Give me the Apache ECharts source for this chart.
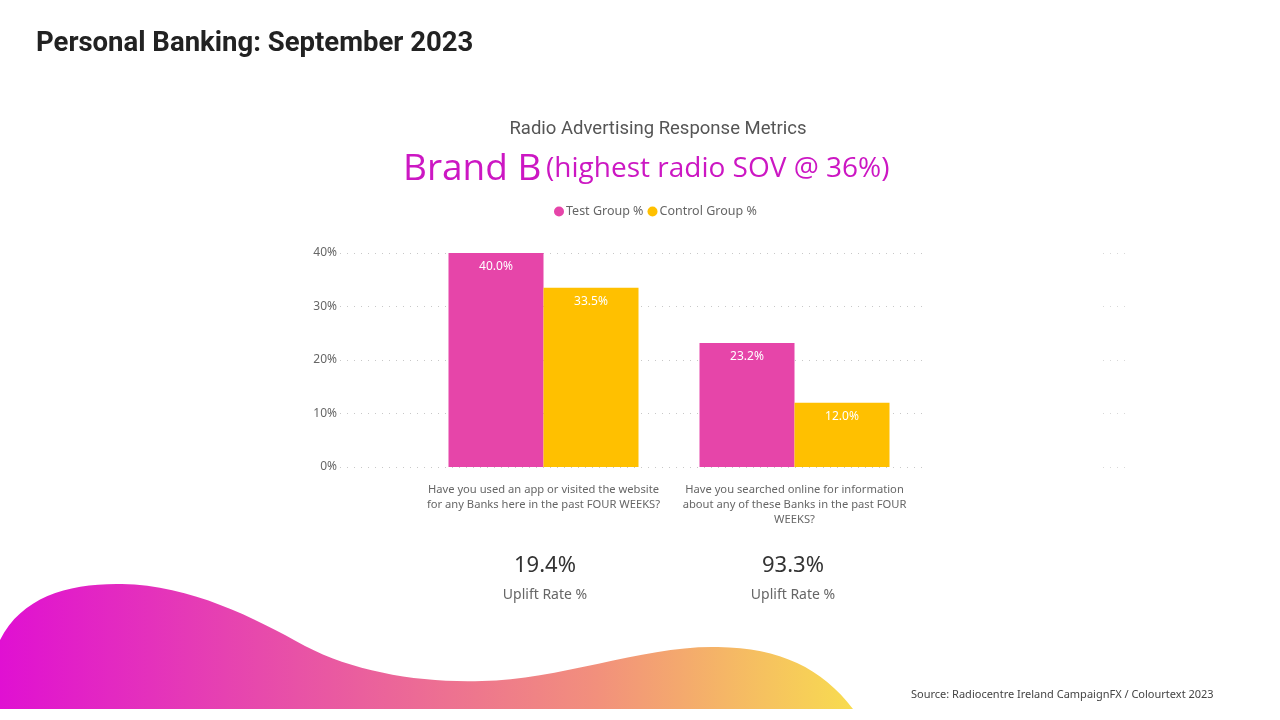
<!DOCTYPE html>
<html>
<head>
<meta charset="utf-8">
<title>Personal Banking: September 2023</title>
<script src="https://cdn.jsdelivr.net/npm/echarts@6/dist/echarts.min.js"></script>
<style>
  html, body { margin: 0; padding: 0; background: #fff; }
  #chart { width: 1280px; height: 720px; }
</style>
</head>
<body>
<div id="chart"></div>
<script>
// 问题类别
const categories = [
  'Have you used an app or visited the website\nfor any Banks here in the past FOUR WEEKS?',
  'Have you searched online for information\nabout any of these Banks in the past FOUR\nWEEKS?'
];
// 系列数据 (%)
const testGroup = [40.0, 23.2];
const controlGroup = [33.5, 12.0];
// 提升率 (%)
const upliftRates = [19.4, 93.3];

const PINK = '#E645A9';
const YELLOW = '#FFC000';
const LABEL_FONT = 'Noto Sans';

const chart = echarts.init(document.getElementById('chart'));

// 背景波浪 (装饰)
const WAVE_PATH = 'M0,709 L0,640 C22,596 70,583 122,584 C190,585 255,618 305,646 ' +
  'C355,672 420,683 482,681 C560,680 645,645 718,647 C780,648 822,668 853,709 Z';
const waveFill = new echarts.graphic.LinearGradient(0, 0, 1, 0, [
  { offset: 0, color: '#E010D2' },
  { offset: 0.35, color: '#E852A6' },
  { offset: 0.7, color: '#F2907C' },
  { offset: 1, color: '#F8DC50' }
]);

// 提升率文字
const kpiX = [545, 793];
const kpis = [];
upliftRates.forEach((v, i) => {
  kpis.push({
    type: 'text', x: kpiX[i], y: 555,
    style: { text: v.toFixed(1) + '%', font: '400 22px "Noto Sans"', fill: '#333', align: 'center' }
  });
  kpis.push({
    type: 'text', x: kpiX[i], y: 588,
    style: { text: 'Uplift Rate %', font: '400 14px "Noto Sans"', fill: '#666', align: 'center' }
  });
});

const valueAxisBase = {
  type: 'value',
  min: 0,
  max: 40,
  interval: 10,
  axisLine: { show: false },
  axisTick: { show: false }
};

const barLabel = {
  show: true, position: 'insideTop', distance: 8,
  formatter: (p) => p.value.toFixed(1) + '%',
  color: '#fff', fontSize: 12
};

chart.setOption({
  backgroundColor: '#fff',
  animation: false,
  textStyle: { fontFamily: LABEL_FONT },
  title: [
    {
      text: 'Personal Banking: September 2023',
      left: 31, top: 25,
      textStyle: { fontFamily: 'Roboto', fontWeight: 'bold', fontSize: 27.5, color: '#222' }
    },
    {
      text: 'Radio Advertising Response Metrics',
      left: 653, top: 115, textAlign: 'center',
      textStyle: { fontFamily: 'Roboto', fontWeight: 'normal', fontSize: 18.5, color: '#555' }
    },
    {
      text: '{a|Brand B} {b|(highest radio SOV @ 36%)}',
      left: 398, top: 146,
      textStyle: {
        rich: {
          a: { fontFamily: 'Open Sans', fontWeight: 'normal', fontSize: 37, color: '#CC17C3' },
          b: { fontFamily: 'Open Sans', fontWeight: 'normal', fontSize: 28, color: '#CC17C3' }
        }
      }
    },
    {
      text: 'Source: Radiocentre Ireland CampaignFX / Colourtext 2023',
      left: 906, top: 684,
      textStyle: { fontFamily: LABEL_FONT, fontWeight: 'normal', fontSize: 11, color: '#444' }
    }
  ],
  legend: {
    data: ['Test Group %', 'Control Group %'],
    left: 549, top: 200,
    icon: 'circle',
    itemWidth: 10, itemHeight: 10, itemGap: 4,
    textStyle: { fontSize: 12.5, color: '#666', padding: [0, 0, 0, -3] }
  },
  grid: [
    // 网格线 + y 轴标签
    { left: 340, right: 355, top: 253, bottom: 253 },
    // 柱子
    { left: 418, right: 360, top: 253, bottom: 253 },
    // 右侧残留虚线
    { left: 1103, right: 153, top: 253, bottom: 253 }
  ],
  xAxis: [
    { gridIndex: 0, type: 'category', data: [''], show: false },
    {
      gridIndex: 1, type: 'category', data: categories,
      axisLine: { show: false }, axisTick: { show: false },
      axisLabel: { color: '#666', fontSize: 11.2, lineHeight: 15, margin: 15, interval: 0 }
    },
    { gridIndex: 2, type: 'category', data: [''], show: false }
  ],
  yAxis: [
    Object.assign({}, valueAxisBase, {
      gridIndex: 0,
      axisLabel: { formatter: '{value}%', color: '#666', fontSize: 12, margin: 3 },
      splitLine: { show: true, lineStyle: { color: '#C8C8C8', type: [1, 6], width: 1 } }
    }),
    Object.assign({}, valueAxisBase, {
      gridIndex: 1,
      axisLabel: { show: false },
      splitLine: { show: false }
    }),
    Object.assign({}, valueAxisBase, {
      gridIndex: 2,
      axisLabel: { show: false },
      splitLine: { show: true, lineStyle: { color: '#D8D8D8', type: [1, 6], width: 1 } }
    })
  ],
  series: [
    {
      name: 'Test Group %', type: 'bar',
      xAxisIndex: 1, yAxisIndex: 1,
      data: testGroup,
      barWidth: 95, barGap: '0%',
      itemStyle: { color: PINK },
      label: barLabel
    },
    {
      name: 'Control Group %', type: 'bar',
      xAxisIndex: 1, yAxisIndex: 1,
      data: controlGroup,
      barWidth: 95, barGap: '0%',
      itemStyle: { color: YELLOW },
      label: barLabel
    },
    {
      // 装饰波浪
      type: 'custom',
      coordinateSystem: 'none',
      silent: true,
      z: -1,
      data: [0],
      renderItem: () => ({
        type: 'path',
        shape: { pathData: WAVE_PATH },
        style: { fill: waveFill }
      })
    }
  ],
  graphic: kpis
});
</script>
</body>
</html>
